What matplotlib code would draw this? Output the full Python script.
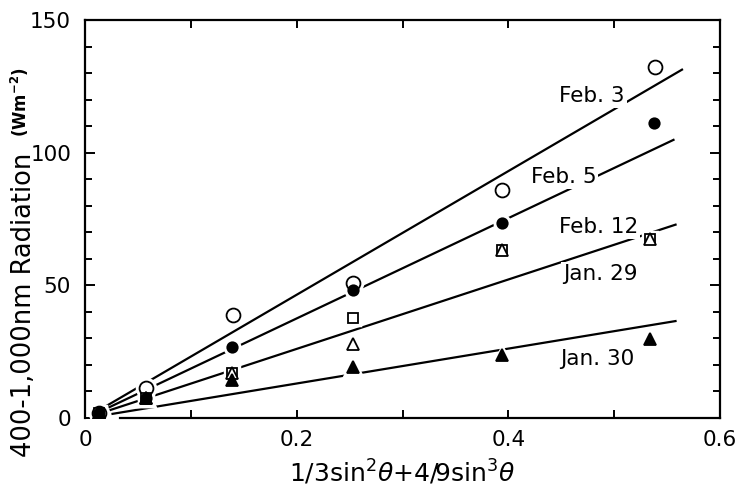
import matplotlib
matplotlib.use("Agg")
import matplotlib.pyplot as plt
from matplotlib.ticker import MultipleLocator

plt.rcParams['font.family'] = ['DejaVu Sans']
plt.rcParams['mathtext.fontset'] = 'dejavusans'

# measured points, one list per day
x_feb3 = [0.013, 0.058, 0.140, 0.253, 0.394, 0.539]
y_feb3 = [2.0, 11.3, 38.8, 50.9, 85.9, 132.3]
x_feb5 = [0.013, 0.058, 0.139, 0.253, 0.394, 0.538]
y_feb5 = [2.0, 7.7, 26.8, 48.2, 73.5, 111.2]
x_feb12 = [0.013, 0.058, 0.139, 0.253, 0.394, 0.534]
y_feb12 = [2.0, 7.7, 17.0, 37.7, 63.3, 67.5]
x_jan29 = [0.013, 0.058, 0.139, 0.253, 0.394, 0.534]
y_jan29 = [2.0, 7.7, 17.0, 27.9, 63.3, 67.5]
x_jan30 = [0.013, 0.058, 0.139, 0.253, 0.394, 0.534]
y_jan30 = [2.0, 7.7, 14.3, 19.2, 23.7, 29.8]

# regression lines (Feb. 12 and Jan. 29 share one)
fit_x0 = [0.020, 0.020, 0.020, 0.025]
fit_y0 = [4.5, 3.5, 2.5, 1.5]
fit_x1 = [0.565, 0.557, 0.559, 0.559]
fit_y1 = [131.5, 105.0, 73.0, 36.6]

day_labels = ['Feb. 3', 'Feb. 5', 'Feb. 12', 'Jan. 29', 'Jan. 30']
label_x = [0.479, 0.452, 0.485, 0.487, 0.484]
label_y = [121.5, 91.0, 72.0, 54.3, 22.2]

x_ticks = [0, 0.2, 0.4, 0.6]
y_ticks = [0, 50, 100, 150]

fig = plt.figure(figsize=(7.4, 4.93), dpi=100)
ax = fig.add_axes([85 / 740, 75 / 493, 635 / 740, 398 / 493])

for x0, y0, x1, y1 in zip(fit_x0, fit_y0, fit_x1, fit_y1):
    ax.plot([x0, x1], [y0, y1], color='black', lw=1.6, zorder=2,
            solid_capstyle='butt')

series = [
    (x_feb3, y_feb3, 'o', 10, 'white'),
    (x_feb12, y_feb12, 's', 7.5, 'white'),
    (x_jan29, y_jan29, '^', 8, 'white'),
    (x_jan30, y_jan30, '^', 8, 'black'),
    (x_feb5, y_feb5, 'o', 7.5, 'black'),
]

# white halo under every marker breaks the lines near the points
for xs, ys, m, ms, fc in series:
    ax.plot(xs, ys, ls='none', marker=m, ms=ms + 3, mfc='white',
            mec='white', mew=2.5, zorder=3)
for xs, ys, m, ms, fc in series:
    ax.plot(xs, ys, ls='none', marker=m, ms=ms, mfc=fc, mec='black',
            mew=1.3, zorder=4)

for txt, lx, ly in zip(day_labels, label_x, label_y):
    ax.text(lx, ly, txt, fontsize=15.5, ha='center', va='center', zorder=3,
            bbox=dict(facecolor='white', edgecolor='none', pad=1.5))

ax.set_xlim(0, 0.6)
ax.set_ylim(0, 150)
ax.set_xticks(x_ticks)
ax.set_xticklabels(['0', '0.2', '0.4', '0.6'])
ax.set_yticks(y_ticks)
ax.xaxis.set_minor_locator(MultipleLocator(0.1))
ax.yaxis.set_minor_locator(MultipleLocator(10))
ax.tick_params(which='both', direction='in', top=True, right=True,
               width=1.4, labelsize=15.5)
ax.tick_params(axis='x', which='both', length=6, pad=9)
ax.tick_params(axis='y', which='major', length=7, pad=10)
ax.tick_params(axis='y', which='minor', length=5)

for s in ax.spines.values():
    s.set_linewidth(1.6)
ax.spines['bottom'].set_bounds(0.033, 0.6)

ax.set_xlabel(r'1/3sin$^{2}\theta$+4/9sin$^{3}\theta$', fontsize=18,
              labelpad=5)
fig.text(24 / 740, 1 - 305 / 493, '400-1,000nm Radiation', rotation=90,
         fontsize=18.5, ha='center', va='center')
fig.text(20 / 740, 1 - 102 / 493, r'(Wm$^{\mathbf{-2}}$)', rotation=90,
         fontsize=12, fontweight='bold', ha='center', va='center')

fig.savefig('out.png', dpi=100)
